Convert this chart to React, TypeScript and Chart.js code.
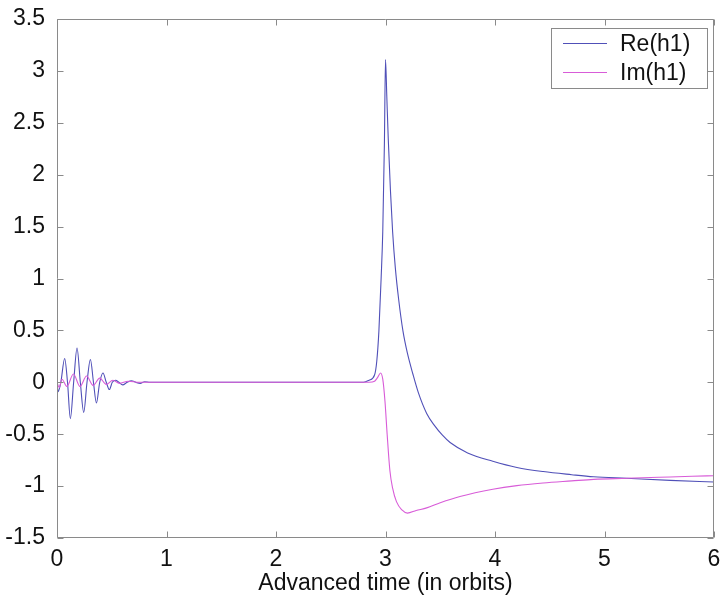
import React, { useEffect, useRef } from "react";
import { Chart, registerables } from "chart.js";

Chart.register(...registerables);

// Re(h1)
const reTimes = [
  0, 0.01, 0.035, 0.07, 0.096, 0.122, 0.152, 0.183, 0.213, 0.244, 0.274, 0.305, 0.333, 0.36, 0.39,
  0.42, 0.45, 0.478, 0.505, 0.535, 0.565, 0.6, 0.64, 0.68, 0.72, 0.76, 0.8, 0.85, 1.0, 2.0, 2.8,
  2.85, 2.9, 2.92, 2.94, 2.96, 2.975, 2.99, 3.0, 3.012, 3.025, 3.045, 3.065, 3.09, 3.12, 3.16, 3.2,
  3.25, 3.3, 3.376, 3.45, 3.52, 3.59, 3.75, 3.98, 4.2, 4.44, 4.7, 4.9, 5.2, 5.6, 6.0,
];
const reValues = [
  0, -0.09, 0, 0.23, 0, -0.35, 0, 0.33, 0, -0.29, 0, 0.22, 0, -0.2, 0,
  0.09, 0, -0.07, 0, 0.02, 0, -0.025, 0, 0.015, 0, -0.01, 0.005, 0, 0, 0, 0,
  0.02, 0.07, 0.2, 0.5, 1.0, 1.45, 2.3, 3.11, 2.75, 2.35, 1.85, 1.45, 1.1, 0.8, 0.49, 0.28,
  0.08, -0.1, -0.3, -0.42, -0.51, -0.58, -0.68, -0.76, -0.82, -0.86, -0.89, -0.91, -0.925, -0.945, -0.96,
];

// Im(h1)
const imTimes = [
  0, 0.02, 0.045, 0.09, 0.15, 0.21, 0.27, 0.33, 0.39, 0.45, 0.51, 0.57, 0.65, 0.75, 1.0, 2.0,
  2.85, 2.9, 2.93, 2.955, 2.975, 2.995, 3.015, 3.04, 3.065, 3.1, 3.15, 3.2, 3.28, 3.376, 3.5,
  3.68, 3.98, 4.2, 4.44, 4.7, 4.9, 5.2, 5.5, 5.8, 6.0,
];
const imValues = [
  0, -0.05, 0.03, -0.04, 0.08, -0.04, 0.06, -0.03, 0.04, -0.02, 0.02, -0.01, 0.01, 0, 0, 0,
  0, 0.01, 0.05, 0.09, 0.03, -0.18, -0.5, -0.85, -1.02, -1.15, -1.23, -1.26, -1.235, -1.21, -1.16,
  -1.1, -1.03, -0.995, -0.97, -0.95, -0.935, -0.925, -0.915, -0.905, -0.9,
];

const xTicks = [0, 1, 2, 3, 4, 5, 6];
const yTicks = [-1.5, -1, -0.5, 0, 0.5, 1, 1.5, 2, 2.5, 3, 3.5];
const seriesNames = ["Re(h1)", "Im(h1)"];
const xTitle = "Advanced time (in orbits)";

const RE_COLOR = "#5050b8";
const IM_COLOR = "#d85cd8";
const AXIS_COLOR = "#8a8a8a";
const FONT = "'Liberation Sans', Arial, sans-serif";
const FS = 23;

const framePlugin = {
  id: "frame",
  afterDatasetsDraw(chart: any) {
    const { ctx, chartArea, scales } = chart;
    const { left, right, top, bottom } = chartArea;
    const L = Math.round(left) + 0.5;
    const R = Math.round(right) - 0.5;
    const T = Math.round(top) + 0.5;
    const B = Math.round(bottom) - 0.5;
    ctx.save();
    ctx.strokeStyle = AXIS_COLOR;
    ctx.lineWidth = 1;
    ctx.beginPath();
    ctx.rect(L, T, R - L, B - T);
    const tl = 6;
    xTicks.forEach((v) => {
      const px = Math.round(scales.x.getPixelForValue(v)) + 0.5;
      ctx.moveTo(px, B);
      ctx.lineTo(px, B - tl);
      ctx.moveTo(px, T);
      ctx.lineTo(px, T + tl);
    });
    yTicks.forEach((v) => {
      const py = Math.round(scales.y.getPixelForValue(v)) + 0.5;
      ctx.moveTo(L, py);
      ctx.lineTo(L + tl, py);
      ctx.moveTo(R, py);
      ctx.lineTo(R - tl, py);
    });
    ctx.stroke();
    ctx.restore();
  },
};

const legendPlugin = {
  id: "boxLegend",
  afterDraw(chart: any) {
    const { ctx, chartArea } = chart;
    const w = 156;
    const h = 60;
    const x0 = Math.round(chartArea.right) - 7 - w;
    const y0 = Math.round(chartArea.top) + 9;
    ctx.save();
    ctx.fillStyle = "#ffffff";
    ctx.fillRect(x0, y0, w, h);
    ctx.strokeStyle = AXIS_COLOR;
    ctx.lineWidth = 1;
    ctx.strokeRect(x0 + 0.5, y0 + 0.5, w, h);
    const colors = [RE_COLOR, IM_COLOR];
    ctx.font = `${FS}px ${FONT}`;
    ctx.textBaseline = "middle";
    ctx.textAlign = "left";
    seriesNames.forEach((name, i) => {
      const ly = y0 + 15 + i * 29 + 0.5;
      ctx.strokeStyle = colors[i];
      ctx.beginPath();
      ctx.moveTo(x0 + 12, ly);
      ctx.lineTo(x0 + 56, ly);
      ctx.stroke();
      ctx.fillStyle = "#111";
      ctx.fillText(name, x0 + 69, ly + 1);
    });
    ctx.restore();
  },
};

export default function App() {
  const ref = useRef<HTMLCanvasElement>(null);

  useEffect(() => {
    document.body.style.margin = "0";
    const canvas = ref.current;
    if (!canvas) return;
    const chart = new Chart(canvas, {
      type: "line",
      data: {
        datasets: [
          {
            label: seriesNames[0],
            data: reTimes.map((t, i) => ({ x: t, y: reValues[i] })),
            borderColor: RE_COLOR,
            borderWidth: 1.1,
            pointRadius: 0,
            cubicInterpolationMode: "monotone",
            fill: false,
            order: 2,
          },
          {
            label: seriesNames[1],
            data: imTimes.map((t, i) => ({ x: t, y: imValues[i] })),
            borderColor: IM_COLOR,
            borderWidth: 1.1,
            pointRadius: 0,
            cubicInterpolationMode: "monotone",
            fill: false,
            order: 1,
          },
        ],
      },
      options: {
        animation: false,
        responsive: false,
        devicePixelRatio: 1,
        layout: { padding: { top: 19, right: 10, left: 0, bottom: 0 } },
        plugins: { legend: { display: false }, tooltip: { enabled: false } },
        scales: {
          x: {
            type: "linear",
            min: 0,
            max: 6,
            grid: { display: false },
            border: { display: false },
            afterBuildTicks: (s: any) => {
              s.ticks = xTicks.map((v) => ({ value: v }));
            },
            afterFit: (s: any) => {
              s.height = 61;
            },
            ticks: {
              color: "#111",
              font: { family: FONT, size: FS },
              padding: 0,
              maxRotation: 0,
              callback: (v: any) => String(v),
            },
            title: {
              display: true,
              text: xTitle,
              color: "#111",
              font: { family: FONT, size: FS },
              padding: { top: 0, bottom: 2 },
            },
          },
          y: {
            type: "linear",
            min: -1.5,
            max: 3.5,
            grid: { display: false },
            border: { display: false },
            afterBuildTicks: (s: any) => {
              s.ticks = yTicks.map((v) => ({ value: v }));
            },
            afterFit: (s: any) => {
              s.width = 57;
            },
            ticks: {
              color: "#111",
              font: { family: FONT, size: FS },
              padding: 4,
              callback: (v: any) => String(v),
            },
          },
        },
      },
      plugins: [framePlugin, legendPlugin],
    });
    return () => chart.destroy();
  }, []);

  return (
    <div style={{ width: 724, height: 599, background: "#fff" }}>
      <canvas ref={ref} width={724} height={599} style={{ display: "block" }} />
    </div>
  );
}
